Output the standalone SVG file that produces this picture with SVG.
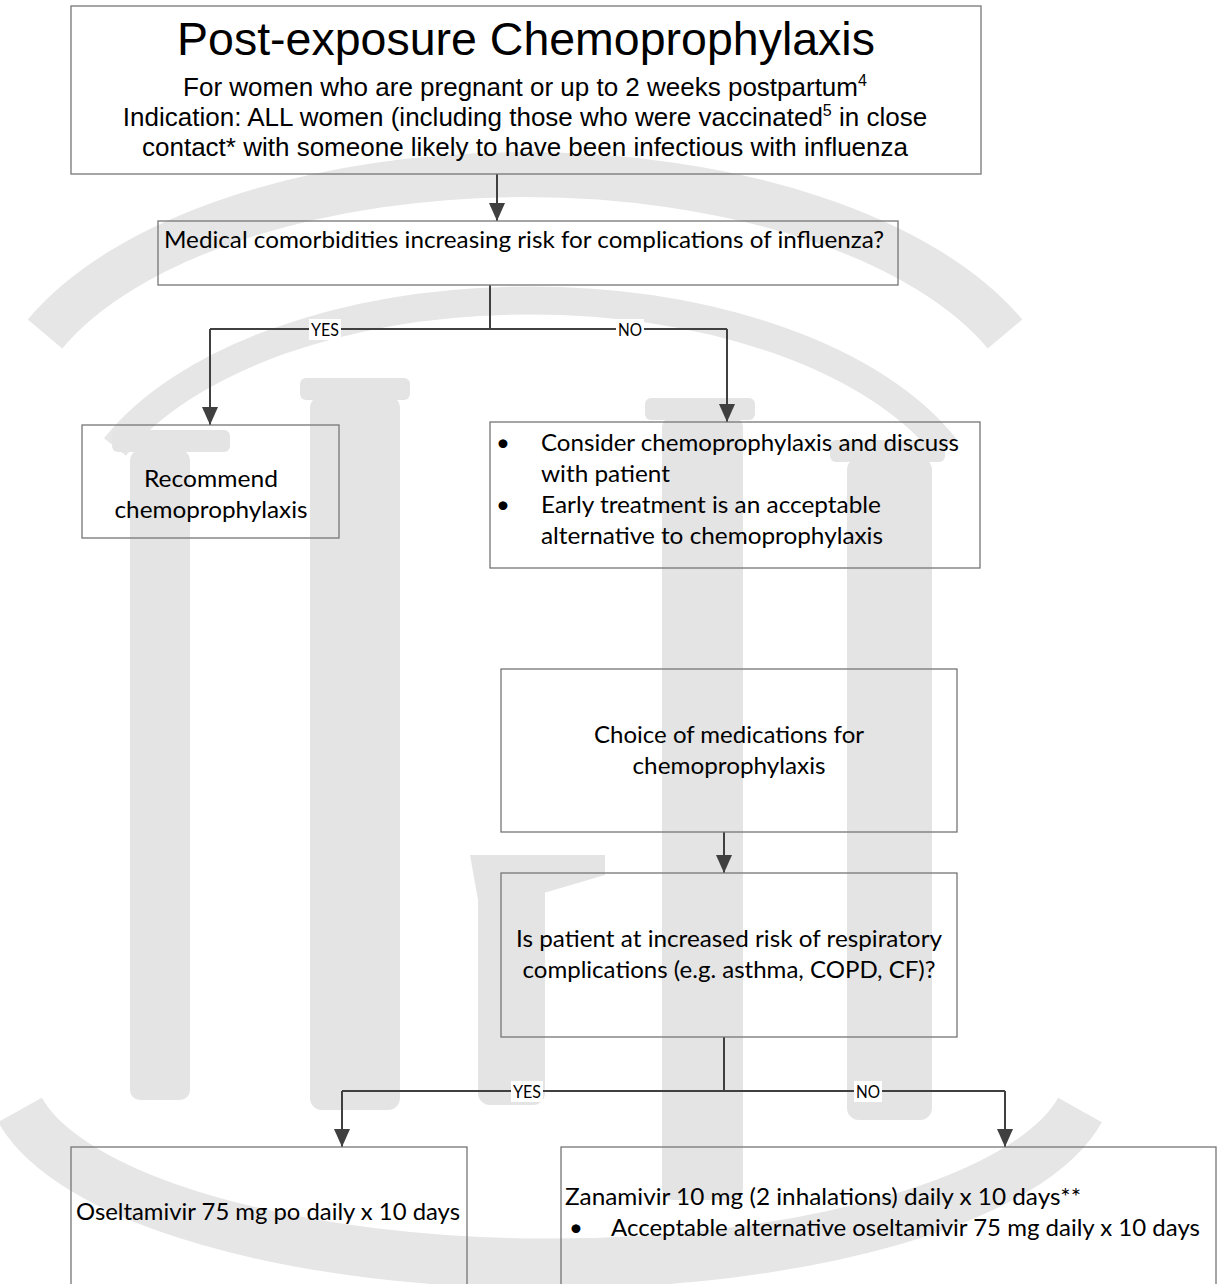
<svg xmlns="http://www.w3.org/2000/svg" width="1221" height="1284" viewBox="0 0 1221 1284">
<defs>
<style>
.box{fill:none;stroke:#767676;stroke-width:1.3}
.con{fill:none;stroke:#404040;stroke-width:2}
.ar{font-family:"Liberation Sans",Arial,sans-serif;fill:#000}
.cb{font-family:Lato,"Open Sans",sans-serif;font-size:24px;fill:#000}
.lbl{font-family:Lato,"Open Sans",sans-serif;font-size:18px;fill:#000}
.wm{fill:#e4e4e4}
.wms{fill:none;stroke:#e6e6e6}
</style>
<marker id="ah" markerUnits="userSpaceOnUse" markerWidth="18" markerHeight="16" refX="18" refY="8" orient="auto">
<path d="M0,0 L18,8 L0,16 z" fill="#404040"/>
</marker>
</defs>
<rect x="0" y="0" width="1221" height="1284" fill="#fff"/>
<g id="watermark">
<path class="wms" d="M45 334 A520 259 0 0 1 1005 334" stroke-width="45"/>
<path class="wms" d="M115 447 A450 239 0 0 1 945 447" stroke-width="28"/>
<path class="wms" d="M20 1110 A540 190 0 0 0 1080 1110" stroke-width="50"/>
<rect class="wm" x="112" y="430" width="118" height="22" rx="6"/>
<rect class="wm" x="130" y="450" width="60" height="650" rx="10"/>
<rect class="wm" x="300" y="378" width="110" height="22" rx="6"/>
<rect class="wm" x="310" y="396" width="90" height="714" rx="12"/>
<rect class="wm" x="645" y="398" width="110" height="22" rx="6"/>
<rect class="wm" x="662" y="416" width="81" height="784" rx="12"/>
<rect class="wm" x="830" y="440" width="115" height="22" rx="6"/>
<rect class="wm" x="847" y="458" width="85" height="662" rx="12"/>
<path class="wm" d="M470 855 L605 855 L605 875 L520 900 L478 900 Z"/>
<rect class="wm" x="478" y="875" width="67" height="230" rx="12"/>
</g>
<g id="connectors">
<path class="con" d="M497 174 L497 221" marker-end="url(#ah)"/>
<path class="con" d="M490 285 L490 329"/>
<path class="con" d="M210 329 L727 329"/>
<path class="con" d="M210 329 L210 425" marker-end="url(#ah)"/>
<path class="con" d="M727 329 L727 422" marker-end="url(#ah)"/>
<rect x="309" y="319" width="32" height="21" fill="#fff"/>
<text class="lbl" x="325" y="336" text-anchor="middle" textLength="28" lengthAdjust="spacingAndGlyphs">YES</text>
<rect x="616" y="319" width="28" height="21" fill="#fff"/>
<text class="lbl" x="630" y="336" text-anchor="middle" textLength="24" lengthAdjust="spacingAndGlyphs">NO</text>
<path class="con" d="M724 832 L724 873" marker-end="url(#ah)"/>
<path class="con" d="M724 1037 L724 1091"/>
<path class="con" d="M342 1091 L1005 1091"/>
<path class="con" d="M342 1091 L342 1147" marker-end="url(#ah)"/>
<path class="con" d="M1005 1091 L1005 1147" marker-end="url(#ah)"/>
<rect x="511" y="1081" width="32" height="21" fill="#fff"/>
<text class="lbl" x="527" y="1098" text-anchor="middle" textLength="28" lengthAdjust="spacingAndGlyphs">YES</text>
<rect x="854" y="1081" width="28" height="21" fill="#fff"/>
<text class="lbl" x="868" y="1098" text-anchor="middle" textLength="24" lengthAdjust="spacingAndGlyphs">NO</text>
</g>
<g id="node-title">
<rect class="box" x="71" y="6" width="910" height="168"/>
<text class="ar" x="526" y="55" font-size="46.5" text-anchor="middle">Post-exposure Chemoprophylaxis</text>
<text class="ar" x="525" y="96" font-size="26" text-anchor="middle">For women who are pregnant or up to 2 weeks postpartum<tspan font-size="16" dy="-10">4</tspan></text>
<text class="ar" x="525" y="126" font-size="26" text-anchor="middle">Indication: ALL women (including those who were vaccinated<tspan font-size="16" dy="-10">5</tspan><tspan dy="10"> in close</tspan></text>
<text class="ar" x="525" y="156" font-size="26" text-anchor="middle">contact* with someone likely to have been infectious with influenza</text>
</g>
<g id="node-comorbidities">
<rect class="box" x="158" y="221" width="740" height="64"/>
<text class="cb" x="164" y="248" textLength="720" lengthAdjust="spacingAndGlyphs">Medical comorbidities increasing risk for complications of influenza?</text>
</g>
<g id="node-recommend">
<rect class="box" x="82" y="425" width="257" height="113"/>
<text class="cb" x="211" y="487" text-anchor="middle" textLength="134" lengthAdjust="spacingAndGlyphs">Recommend</text>
<text class="cb" x="211" y="518" text-anchor="middle" textLength="193" lengthAdjust="spacingAndGlyphs">chemoprophylaxis</text>
</g>
<g id="node-consider">
<rect class="box" x="490" y="422" width="490" height="146"/>
<text class="cb" x="503" y="451" text-anchor="middle">•</text>
<text class="cb" x="541" y="451" textLength="418" lengthAdjust="spacingAndGlyphs">Consider chemoprophylaxis and discuss</text>
<text class="cb" x="541" y="482" textLength="129" lengthAdjust="spacingAndGlyphs">with patient</text>
<text class="cb" x="503" y="513" text-anchor="middle">•</text>
<text class="cb" x="541" y="513" textLength="340" lengthAdjust="spacingAndGlyphs">Early treatment is an acceptable</text>
<text class="cb" x="541" y="544" textLength="342" lengthAdjust="spacingAndGlyphs">alternative to chemoprophylaxis</text>
</g>
<g id="node-choice">
<rect class="box" x="501" y="669" width="456" height="163"/>
<text class="cb" x="729" y="743" text-anchor="middle" textLength="270" lengthAdjust="spacingAndGlyphs">Choice of medications for</text>
<text class="cb" x="729" y="774" text-anchor="middle" textLength="193" lengthAdjust="spacingAndGlyphs">chemoprophylaxis</text>
</g>
<g id="node-respiratory">
<rect class="box" x="501" y="873" width="456" height="164"/>
<text class="cb" x="729" y="947" text-anchor="middle" textLength="426" lengthAdjust="spacingAndGlyphs">Is patient at increased risk of respiratory</text>
<text class="cb" x="729" y="978" text-anchor="middle" textLength="413" lengthAdjust="spacingAndGlyphs">complications (e.g. asthma, COPD, CF)?</text>
</g>
<g id="node-oseltamivir">
<rect class="box" x="71" y="1147" width="396" height="160"/>
<text class="cb" x="76" y="1220" textLength="384" lengthAdjust="spacingAndGlyphs">Oseltamivir 75 mg po daily x 10 days</text>
</g>
<g id="node-zanamivir">
<rect class="box" x="561" y="1147" width="655" height="160"/>
<text class="cb" x="565" y="1205" textLength="516" lengthAdjust="spacingAndGlyphs">Zanamivir 10 mg (2 inhalations) daily x 10 days**</text>
<text class="cb" x="576" y="1236" text-anchor="middle">•</text>
<text class="cb" x="611" y="1236" textLength="589" lengthAdjust="spacingAndGlyphs">Acceptable alternative oseltamivir 75 mg daily x 10 days</text>
</g>
</svg>
